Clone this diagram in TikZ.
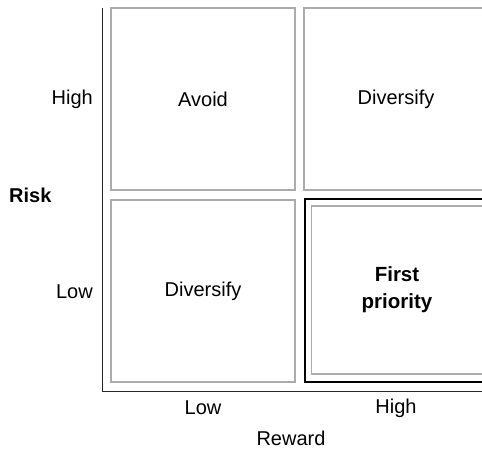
\documentclass[tikz,border=0pt]{standalone}
\usepackage{fontspec}
\setmainfont{Liberation Sans}
\begin{document}
\begin{tikzpicture}[x=1pt,y=-1pt,
  cell/.style={draw=black!33,line width=1.4pt,minimum width=184pt,minimum height=182pt,inner sep=0pt,font=\fontsize{20}{24}\selectfont},
  frame/.style={draw=black,line width=2pt,minimum width=184pt,minimum height=183pt,inner sep=0pt},
  innercell/.style={draw=black!33,line width=1.4pt,minimum width=171pt,minimum height=168pt,inner sep=0pt,align=center,font=\fontsize{20.5}{27}\selectfont\bfseries},
  lbl/.style={inner sep=0pt,font=\fontsize{20}{24}\selectfont},
  axis/.style={draw=black!85,line width=1.5pt}]
\useasboundingbox (0,0) rectangle (482,448);
\clip (0,0) rectangle (482,448);
\node[cell] (tl) at (203,99) {Avoid};
\node[cell] (tr) at (396,99) {Diversify};
\node[cell] (bl) at (203,291) {Diversify};
\node[frame] (br) at (397,290.5) {};
\node[innercell] (bri) at (397,290) {First\\priority};
\coordinate (atop) at (102.7,8);
\coordinate (aorg) at (102.7,391.5);
\coordinate (aright) at (482,391.5);
\draw[axis] (atop) -- (aorg) -- (aright);
\node[lbl,anchor=east] (yhigh) at (93,99) {High};
\node[lbl,anchor=east] (ylow) at (93,292) {Low};
\node[lbl,anchor=west,font=\fontsize{20}{24}\selectfont\bfseries] (risk) at (9,195) {Risk};
\node[lbl] (xlow) at (203,408) {Low};
\node[lbl] (xhigh) at (396,408) {High};
\node[lbl] (reward) at (291,438) {Reward};
\end{tikzpicture}
\end{document}
